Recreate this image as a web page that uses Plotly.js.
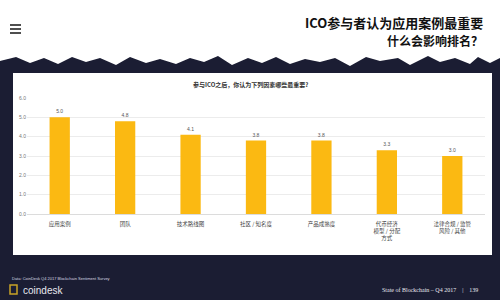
<!DOCTYPE html>
<html>
<head>
<meta charset="utf-8">
<script src="https://cdn.plot.ly/plotly-3.0.1.min.js"></script>
<style>html,body{margin:0;padding:0;background:#1b1d33;}#chart{width:500px;height:300px;}</style>
</head>
<body>
<div id="chart"></div>
<script>
const categories = ["应用案例", "团队", "技术路线图", "社区 / 知名度", "产品成熟度", "代币经济<br>模型 / 分配<br>方式", "法律合规 / 监管<br>风险 / 其他"];
const values = [5.0, 4.8, 4.1, 3.8, 3.8, 3.3, 3.0];
const valueLabels = ["5.0", "4.8", "4.1", "3.8", "3.8", "3.3", "3.0"];
const yTicks = [0, 1, 2, 3, 4, 5, 6];
const yTickText = ["0.0", "1.0", "2.0", "3.0", "4.0", "5.0", "6.0"];

const W = 500, H = 300;
const L = 27, R = 15, T = 98, B = 86;
const pw = W - L - R, ph = H - T - B;
const px = x => (x - L) / pw;
const py = y => (H - B - y) / ph;

// torn edge path between header and navy band
function tornPath() {
  const pts = [[0,0],[500,0],[500,58]];
  const edge = [500,490,478,470,455,440,428,410,398,380,366,350,335,320,305,290,276,262,248,232,218,204,190,176,160,146,130,116,100,86,72,58,44,30,16,0];
  const dips = [0,5,-1,6,0,4,-2,7,0,3,-1,8,0,4,1,6,-1,5,0,7,-2,4,0,6,1,5,-1,7,0,4,-1,6,0,5,-1,3];
  for (let i = 0; i < edge.length; i++) pts.push([edge[i], 58 + dips[i]]);
  return 'M' + pts.map(p => px(p[0]).toFixed(4) + ',' + py(p[1]).toFixed(4)).join(' L') + ' Z';
}

const shapes = [
  {type:'path', xref:'paper', yref:'paper', path: tornPath(), fillcolor:'#ffffff', line:{width:0}, layer:'below'},
  {type:'rect', xref:'paper', yref:'paper', x0:px(13), x1:px(492), y0:py(255), y1:py(73), fillcolor:'#ffffff', line:{width:0}, layer:'below'},
];
[25, 29, 33].forEach(y => shapes.push({type:'line', xref:'paper', yref:'paper', x0:px(10), x1:px(21), y0:py(y), y1:py(y), line:{color:'#222', width:1.6}}));
// small coindesk logo mark
shapes.push({type:'rect', xref:'paper', yref:'paper', x0:px(10), x1:px(17), y0:py(294), y1:py(285), line:{color:'#c9a227', width:1.5}, fillcolor:'rgba(0,0,0,0)'});

const annotations = [
  {text:'<b>ICO参与者认为应用案例最重要</b>', xref:'paper', yref:'paper', x:px(485), y:py(22), xanchor:'right', yanchor:'middle', showarrow:false, font:{family:'Noto Sans CJK SC', size:13, color:'#111'}},
  {text:'<b>什么会影响排名？</b>', xref:'paper', yref:'paper', x:px(485), y:py(40), xanchor:'right', yanchor:'middle', showarrow:false, font:{family:'Noto Sans CJK SC', size:12, color:'#111'}},
  {text:'<b>参与ICO之后，你认为下列因素哪些最重要?</b>', xref:'paper', yref:'paper', x:px(250), y:py(84), xanchor:'center', yanchor:'middle', showarrow:false, font:{family:'Noto Sans CJK SC', size:6, color:'#333'}},
  {text:'Data: CoinDesk Q4 2017 Blockchain Sentiment Survey', xref:'paper', yref:'paper', x:px(10), y:py(278), xanchor:'left', yanchor:'middle', showarrow:false, font:{family:'Liberation Sans', size:4, color:'#d8d8e0'}},
  {text:'coindesk', xref:'paper', yref:'paper', x:px(21), y:py(290), xanchor:'left', yanchor:'middle', showarrow:false, font:{family:'Liberation Sans', size:10, color:'#e8e8ee'}},
  {text:'State of Blockchain – Q4 2017    |    139', xref:'paper', yref:'paper', x:px(480), y:py(290), xanchor:'right', yanchor:'middle', showarrow:false, font:{family:'Liberation Serif', size:6, color:'#e8e8ee'}},
];

const trace = {
  type:'bar', x: categories, y: values, text: valueLabels, textposition:'outside',
  textfont:{family:'Liberation Sans', size:5, color:'#555'}, cliponaxis:false,
  marker:{color:'#fbb912'}, hoverinfo:'none'
};

const layout = {
  width: W, height: H,
  margin:{l:L, r:R, t:T, b:B, pad:0},
  paper_bgcolor:'#1b1d33', plot_bgcolor:'#ffffff',
  showlegend:false, bargap:0.69,
  font:{family:'Noto Sans CJK SC', size:6, color:'#555'},
  xaxis:{type:'category', tickfont:{family:'Noto Sans CJK SC', size:5.5, color:'#444'}, showgrid:false, showline:false, ticks:'', zeroline:false, tickangle:0, automargin:false, ticklabelstandoff:5},
  yaxis:{range:[0,6], tickvals:yTicks, ticktext:yTickText, tickfont:{family:'Liberation Sans', size:5, color:'#777'}, gridcolor:'#ececec', gridwidth:1, zeroline:true, zerolinecolor:'#dcdcdc', showline:false, ticks:'', automargin:false},
  shapes: shapes, annotations: annotations
};

Plotly.newPlot('chart', [trace], layout, {staticPlot:true, displayModeBar:false});
</script>
</body>
</html>
